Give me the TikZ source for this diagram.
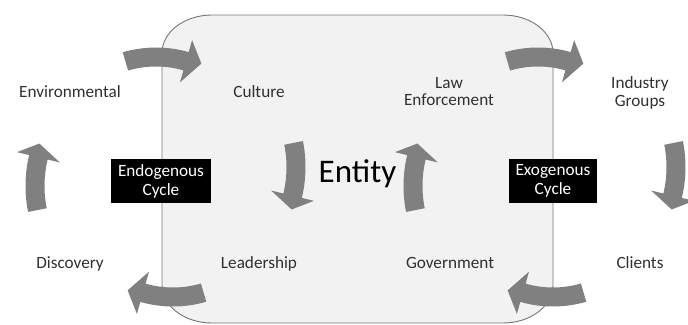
\documentclass[tikz,border=0pt]{standalone}
\usepackage{fontspec}
\setmainfont{Carlito}
\definecolor{arrowgray}{HTML}{808080}
\definecolor{panelfill}{HTML}{F2F2F2}
\definecolor{paneledge}{HTML}{767676}
\definecolor{labeltext}{HTML}{303030}
% curved block arrow: centre x, centre y, mid radius, tail angle, head-base angle, tip angle, tip radius
\newcommand\blockarc[7]{%
  \pgfmathsetmacro\arcro{#3+9.5}\pgfmathsetmacro\arcri{#3-9.5}%
  \pgfmathsetmacro\archo{#3+22}\pgfmathsetmacro\archi{#3-22}%
  \fill[arrowfill, shift={(#1,#2)}] (#4:\arcro) arc[start angle=#4, end angle=#5, radius=\arcro]
    -- (#5:\archo) -- (#6:#7) -- (#5:\archi) -- (#5:\arcri)
    arc[start angle=#5, end angle=#4, radius=\arcri] -- cycle;}
\begin{document}
\begin{tikzpicture}[x=1pt,y=1pt,
  lbl/.style={font=\fontsize{17.2}{17.5}\selectfont, text=labeltext, inner sep=0pt, align=center},
  cyclename/.style={fill=black, text=white, font=\fontsize{17.2}{19}\selectfont, align=center,
    inner xsep=7pt, inner ysep=0pt, minimum height=44pt},
  arrowfill/.style={fill=arrowgray},
  panel/.style={fill=panelfill, draw=paneledge, line width=0.9pt}]
\useasboundingbox (0,0) rectangle (688,-324);

% the entity panel with elliptical corners
\path[panel] (212,-15) -- (503,-15)
  arc[start angle=90, end angle=0, x radius=50, y radius=38] -- (553,-285)
  arc[start angle=0, end angle=-90, x radius=50, y radius=38] -- (212,-323)
  arc[start angle=270, end angle=180, x radius=50, y radius=38] -- (162,-53)
  arc[start angle=180, end angle=90, x radius=50, y radius=38] -- cycle;

% endogenous cycle arrows
\blockarc{156}{-166}{109}{106.3}{74}{66.1}{112}
\blockarc{173}{-167}{123}{11.3}{-13.5}{-19.7}{126}
\blockarc{173}{-188}{109}{286.3}{254}{246.1}{112}
\blockarc{158}{-186}{123}{191.3}{166.5}{160.3}{126}
% exogenous cycle arrows
\blockarc{538}{-166}{109}{106.3}{74}{66.1}{112}
\blockarc{553}{-167}{123}{11.3}{-13.5}{-19.7}{126}
\blockarc{553}{-188}{109}{286.3}{254}{246.1}{112}
\blockarc{536}{-186}{123}{191.3}{166.5}{160.3}{126}

% labels
\node[lbl, anchor=base] (env) at (70,-97) {Environmental};
\node[lbl, anchor=base] (cul) at (259,-97) {Culture};
\node[lbl] (law) at (449,-91.3) {Law\\Enforcement};
\node[lbl] (ind) at (640,-92.8) {Industry\\Groups};
\node[lbl, anchor=base] (dis) at (70,-268) {Discovery};
\node[lbl, anchor=base] (lea) at (259,-268) {Leadership};
\node[lbl, anchor=base] (gov) at (450,-268) {Government};
\node[lbl, anchor=base] (cli) at (640,-268) {Clients};
\node[font=\fontsize{33}{36}\selectfont, inner sep=0pt, anchor=base] (ent) at (357.5,-182) {Entity};
\node[cyclename] (endo) at (161,-181) {Endogenous\\Cycle};
\node[cyclename] (exo) at (553,-181) {Exogenous\\Cycle};
\end{tikzpicture}
\end{document}
